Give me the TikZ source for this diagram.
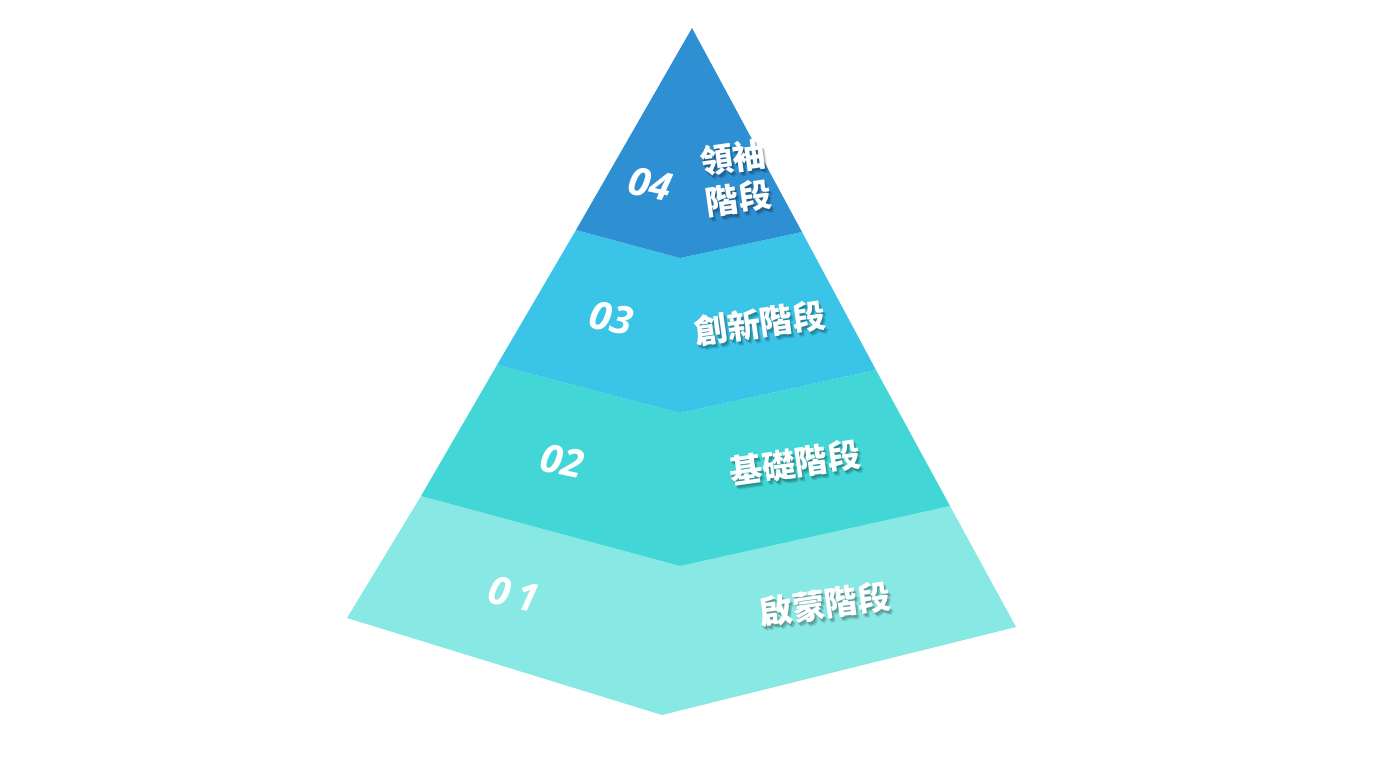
\documentclass[tikz,border=0pt]{standalone}
\usepackage{fontspec}
\usepackage{tikz}
\newfontfamily\cjk{Noto Sans CJK TC}
\newfontfamily\numfont{Open Sans}
\definecolor{tierfour}{RGB}{46,143,210}
\definecolor{tierthree}{RGB}{58,196,232}
\definecolor{tiertwo}{RGB}{66,214,214}
\definecolor{tierone}{RGB}{136,232,228}
\tikzset{every picture/.style={line width=0.75pt},
  tiernum/.style={text=white,font=\numfont\bfseries\itshape\fontsize{39}{39}\selectfont,rotate=-12},
  tiername/.style={text=white,font=\cjk\bfseries\fontsize{33}{41}\selectfont,rotate=8,align=center},
  tiershadow/.style={text=black,opacity=0.12,font=\cjk\bfseries\fontsize{33}{41}\selectfont,rotate=8,align=center}}

\begin{document}
\begin{tikzpicture}[x=1pt,y=1pt,yscale=-1,xscale=1]
    \useasboundingbox (0,0) rectangle (1376,768);
    % layers, bottom to top
    \fill [tierone]   (421,496) -- (680,566) -- (950,506) -- (1016,627) -- (662,715) -- (347,618) -- cycle ;
    \fill [tiertwo]   (497,365) -- (680,413) -- (876,370) -- (950,506) -- (680,566) -- (421,496) -- cycle ;
    \fill [tierthree] (576,230) -- (680,258) -- (802,232) -- (876,370) -- (680,413) -- (497,365) -- cycle ;
    \fill [tierfour]  (692,28) -- (802,232) -- (680,258) -- (576,230) -- cycle ;
    % numbers
    \node (num4) at (650,184) [tiernum] {04};
    \node (num3) at (611,318) [tiernum] {03};
    \node (num2) at (562,461) [tiernum] {02};
    \node (num1) at (514,594) [tiernum] {0\,1};
    % names with soft shadow
    \foreach \dx/\dy in {1/2,2/3,3/4} {
      \node (name4s) at (736+\dx,178+\dy) [tiershadow] {領袖\\階段};
      \node (name3s) at (760+\dx,323+\dy) [tiershadow] {創新階段};
      \node (name2s) at (795+\dx,463+\dy) [tiershadow] {基礎階段};
      \node (name1s) at (825+\dx,604+\dy) [tiershadow] {啟蒙階段};
    }
    \node (name4) at (736,178) [tiername] {領袖\\階段};
    \node (name3) at (760,323) [tiername] {創新階段};
    \node (name2) at (795,463) [tiername] {基礎階段};
    \node (name1) at (825,604) [tiername] {啟蒙階段};
\end{tikzpicture}
\end{document}
